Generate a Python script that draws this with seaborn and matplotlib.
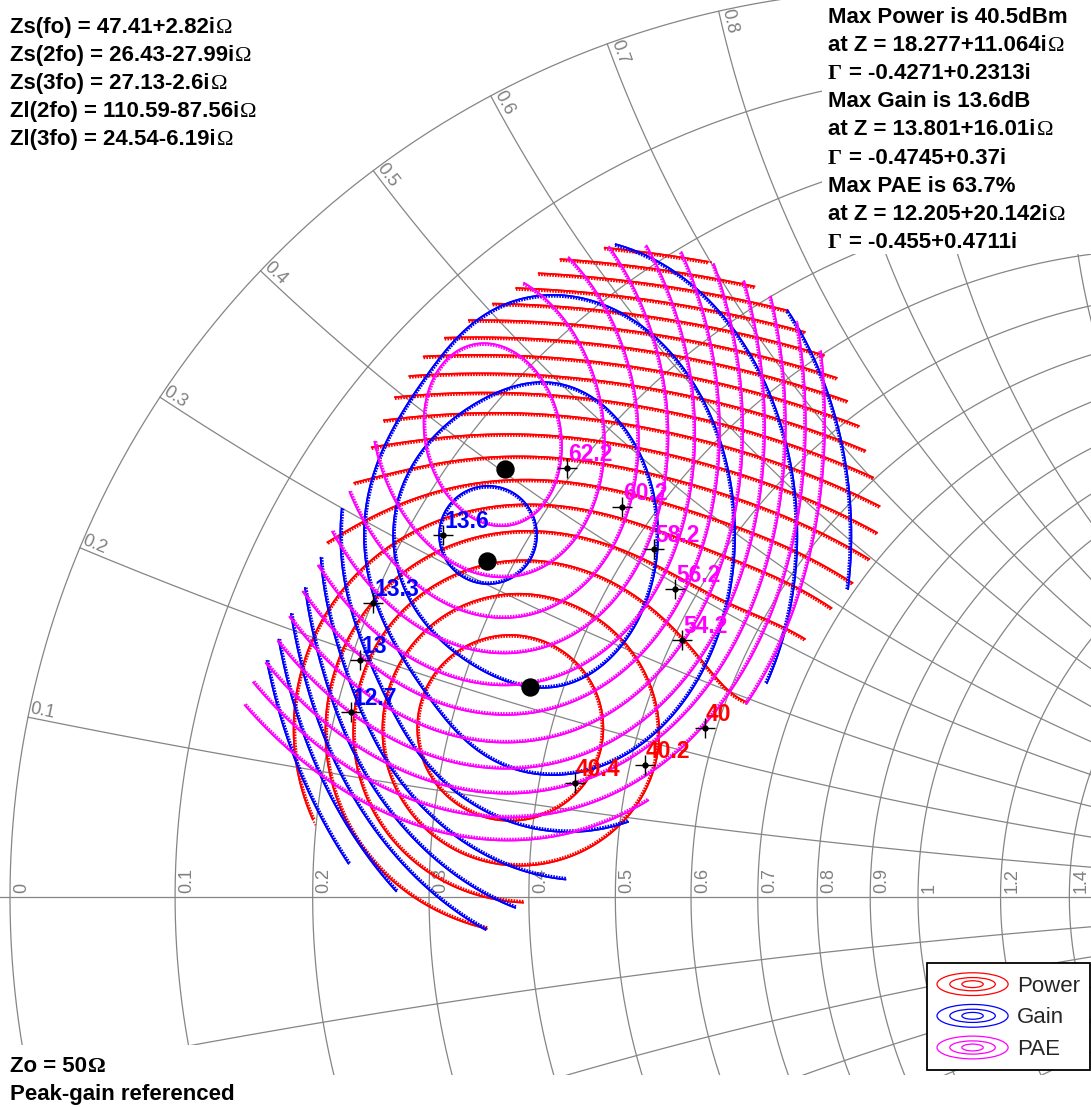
import numpy as np
import matplotlib
matplotlib.use("Agg")
import matplotlib.pyplot as plt
import seaborn as sns
from matplotlib.path import Path
from matplotlib import patheffects as pe
from matplotlib.patches import Ellipse, Rectangle
from matplotlib.legend_handler import HandlerBase
from matplotlib.lines import Line2D

sns.set_theme(style="white")
plt.rcParams["font.family"] = ["Liberation Sans", "DejaVu Sans"]

# ---------------- data (reflection-coefficient plane) ----------------
max_re = [-0.4271, -0.4745, -0.455]          # Power, Gain, PAE maxima
max_im = [0.2313, 0.37, 0.4711]

power_levels = [40.4, 40.2, 40.0, 39.8, 39.6, 39.4, 39.2, 39.0, 38.8, 38.6, 38.4,
                38.2, 38.0, 37.8, 37.6, 37.4, 37.2, 37.0, 36.8, 36.6]
gain_levels = [13.6, 13.3, 13.0, 12.7, 12.4, 12.1, 11.8, 11.5, 11.2]
pae_levels = [62.2, 60.2, 58.2, 56.2, 54.2, 52.2, 50.2, 48.2, 46.2, 44.2, 42.2]

power_lab_val = [40.4, 40.2, 40.0]
power_lab_re = [-0.3778, -0.3007, -0.2346]
power_lab_im = [0.1256, 0.1454, 0.1861]
gain_lab_val = [13.6, 13.3, 13.0, 12.7]
gain_lab_re = [-0.5231, -0.6002, -0.6145, -0.6244]
gain_lab_im = [0.3987, 0.3238, 0.2610, 0.2037]
pae_lab_val = [62.2, 60.2, 58.2, 56.2, 54.2]
pae_lab_re = [-0.3866, -0.3260, -0.2907, -0.2676, -0.2599]
pae_lab_im = [0.4725, 0.4295, 0.3833, 0.3392, 0.2830]

# measured load-pull area (outline)
region_re = [-0.394, -0.328, -0.279, -0.218, -0.152, -0.097, -0.064, -0.040, -0.046,
             -0.066, -0.105, -0.155, -0.227, -0.284, -0.374, -0.438, -0.493, -0.570,
             -0.644, -0.681, -0.722, -0.747, -0.732, -0.714, -0.684, -0.662, -0.642,
             -0.620, -0.598, -0.576, -0.545, -0.515, -0.477, -0.438]
region_im = [0.704, 0.721, 0.718, 0.696, 0.657, 0.591, 0.520, 0.432, 0.382,
             0.351, 0.305, 0.247, 0.171, 0.118, 0.026, -0.009, -0.050, 0.002,
             0.046, 0.107, 0.156, 0.200, 0.239, 0.267, 0.327, 0.366, 0.415,
             0.461, 0.506, 0.555, 0.597, 0.622, 0.649, 0.675]

# surface descriptors: centre, centre drift, axis angle, inner/outer aspect,
# aspect growth radius and sharpness, peak, scale, exponent
power_surf = dict(c=(-0.4692, 0.1905), v=(0.2, 0.0), angle=-12.0, a0=1.0, a1=1.7,
                  L=0.31, q=6, peak=40.62, k=10.6, p=1.7)
gain_surf = dict(c=(-0.4978, 0.3987), v=(0.0, -0.45), angle=90.0, a0=1.0, a1=1.3,
                 L=0.2, q=4, peak=13.66, k=11.5, p=1.8)
pae_surf = dict(c=(-0.4604, 0.4900), v=(0.2, 0.05), angle=102.0, a0=1.36, a1=1.36,
                L=1.0, q=4, peak=63.72, k=96.2, p=1.6)

r_values = [0, 0.1, 0.2, 0.3, 0.4, 0.5, 0.6, 0.7, 0.8, 0.9, 1.0, 1.2, 1.4]
x_values = [0.1, 0.2, 0.3, 0.4, 0.5, 0.6, 0.7, 0.8, 0.9, 1.0, 1.2, 1.4]
x_labels = [0.1, 0.2, 0.3, 0.4, 0.5, 0.6, 0.7, 0.8]

# ---------------- figure ----------------
W, H = 1091, 1107
fig = plt.figure(figsize=(W / 100, H / 100), dpi=100)
ax = fig.add_axes([0, 32 / H, 1, 1075 / H])
px = 908.0
x0, y0 = 918.0, 897.0
ax.set_xlim((0 - x0) / px, (W - x0) / px)
ax.set_ylim((y0 - 1075) / px, y0 / px)
ax.set_axis_off()

grid_kw = dict(color="#858585", lw=0.9, zorder=1)
th = np.linspace(0, 2 * np.pi, 1500)
for r in r_values:
    c, rad = r / (1 + r), 1 / (1 + r)
    ax.plot(c + rad * np.cos(th), rad * np.sin(th), **grid_kw)
ax.plot([-1.2, 1.2], [0, 0], **grid_kw)
rr = np.concatenate([[0], np.logspace(-3, 3, 1500)])
for xv in x_values:
    for s in (1, -1):
        z = rr + 1j * s * xv
        g = (z - 1) / (z + 1)
        ax.plot(g.real, g.imag, **grid_kw)

lab_kw = dict(color="#808080", fontsize=13, rotation_mode="anchor", zorder=2)
for r in r_values:
    gr = (r - 1) / (r + 1)
    ax.text(gr + 3 / px, 4 / px, f"{r:g}", rotation=90, ha="left", va="top", **lab_kw)
for xv in x_labels:
    g = (1j * xv - 1) / (1j * xv + 1)
    ang = np.degrees(np.arctan2(-g.imag, -g.real))
    ax.text(g.real, g.imag, f"{xv:g}", rotation=ang, ha="left", va="bottom", **lab_kw)

# ---------------- contour surfaces ----------------
GX, GY = np.meshgrid(np.linspace(-0.80, 0.0, 560), np.linspace(-0.12, 0.76, 610))
region = Path(np.column_stack([region_re, region_im]))
inside = region.contains_points(np.column_stack([GX.ravel(), GY.ravel()])).reshape(GX.shape)


def surface(sp):
    dx, dy = GX - sp["c"][0], GY - sp["c"][1]
    rho = np.hypot(dx, dy)
    a = sp["a0"] + (sp["a1"] - sp["a0"]) * (1 - np.exp(-(rho / sp["L"]) ** sp["q"]))
    t = np.radians(sp["angle"])
    u = (dx * np.cos(t) + dy * np.sin(t)) / a
    w = -dx * np.sin(t) + dy * np.cos(t)
    vx, vy = sp["v"]
    b = u * vx + w * vy
    vv = vx * vx + vy * vy
    R = (-b + np.sqrt(b * b + (1 - vv) * (u * u + w * w))) / (1 - vv)
    F = sp["peak"] - sp["k"] * R ** sp["p"]
    return np.ma.masked_where(~inside, F)


tick = [pe.Stroke(), pe.withTickedStroke(angle=90, spacing=2.0, length=1.0)]
for sp, lv, col, z in [(power_surf, power_levels, "#ff0000", 3),
                       (gain_surf, gain_levels, "#0000ff", 4),
                       (pae_surf, pae_levels, "#ff00ff", 5)]:
    cs = ax.contour(GX, GY, surface(sp), levels=sorted(lv), colors=col,
                    linewidths=1.2, zorder=z)
    cs.set_path_effects(tick)

# labels on contours
for vals, res, ims, col in [(power_lab_val, power_lab_re, power_lab_im, "#ff0000"),
                            (gain_lab_val, gain_lab_re, gain_lab_im, "#0000ff"),
                            (pae_lab_val, pae_lab_re, pae_lab_im, "#ff00ff")]:
    ax.plot(res, ims, ls="none", marker="+", ms=14, mew=1.0, color="black", zorder=8)
    ax.plot(res, ims, ls="none", marker="o", ms=3.5, color="black", zorder=8)
    for v, a, b in zip(vals, res, ims):
        ax.text(a + 1 / px, b + 2 / px, f"{v:g}", color=col, fontsize=16.5,
                fontweight="bold", ha="left", va="bottom", zorder=9)

sns.scatterplot(x=max_re, y=max_im, ax=ax, color="black", s=150, edgecolor="black",
                zorder=10, legend=False)
ax.set_xlabel("")
ax.set_ylabel("")
ax.set_axis_off()

# ---------------- text blocks ----------------
for rect in [(0, 1107 - 252, 262, 252), (822, 1107 - 254, 269, 254), (0, 0, 256, 62)]:
    fig.patches.append(Rectangle((rect[0] / W, rect[1] / H), rect[2] / W, rect[3] / H,
                                 transform=fig.transFigure, facecolor="white",
                                 edgecolor="none", zorder=20))

left_lines = ["Zs(fo) = 47.41+2.82i", "Zs(2fo) = 26.43-27.99i", "Zs(3fo) = 27.13-2.6i",
              "Zl(2fo) = 110.59-87.56i", "Zl(3fo) = 24.54-6.19i"]
right_lines = ["Max Power is 40.5dBm", "at Z = 18.277+11.064i", "\u0393= -0.4271+0.2313i",
               "Max Gain is 13.6dB", "at Z = 13.801+16.01i", "\u0393= -0.4745+0.37i",
               "Max PAE is 63.7%", "at Z = 12.205+20.142i", "\u0393= -0.455+0.4711i"]
tkw = dict(fontsize=16, fontweight="bold", color="black", va="baseline", ha="left", zorder=30)
sym_kw = dict(fontsize=16, color="black", va="baseline", ha="left", zorder=30,
              family=["Liberation Serif", "DejaVu Serif"])
renderer = fig.canvas.get_renderer()


def put_line(xp, yp, s):
    if s.startswith("\u0393"):
        fig.text(xp / W, 1 - yp / H, "\u0393", fontweight="bold", **sym_kw)
        fig.text((xp + 21) / W, 1 - yp / H, s[1:].lstrip(), **tkw)
        return
    t = fig.text(xp / W, 1 - yp / H, s, **tkw)
    if s.endswith("i") and ("Z" in s):
        bb = t.get_window_extent(renderer)
        fig.text((bb.x1 + 1) / W, 1 - yp / H, "\u03a9", **sym_kw)


for i, s in enumerate(left_lines):
    put_line(10, 33 + 28 * i, s)
for i, s in enumerate(right_lines):
    put_line(828, 23 + 28.1 * i, s)
t = fig.text(10 / W, 1 - 1072 / H, "Zo = 50", **tkw)
bb = t.get_window_extent(renderer)
fig.text((bb.x1 + 1) / W, 1 - 1072 / H, "\u03a9", fontweight="bold", **sym_kw)
fig.text(10 / W, 1 - 1100 / H, "Peak-gain referenced", **tkw)


# ---------------- legend ----------------
class NestedLoops(HandlerBase):
    def __init__(self, color):
        super().__init__()
        self.color = color

    def create_artists(self, legend, orig_handle, xdescent, ydescent, width, height,
                       fontsize, trans):
        cx, cy = -xdescent + width / 2, -ydescent + height / 2
        arts = []
        for fw, fh in [(1.0, 1.0), (0.64, 0.58), (0.3, 0.3)]:
            arts.append(Ellipse((cx, cy), width * fw, height * fh, fill=False,
                                edgecolor=self.color, lw=0.9, transform=trans))
        return arts


handles = [Line2D([], [], color=c) for c in ("#ff0000", "#0000ff", "#ff00ff")]
hmap = {h: NestedLoops(h.get_color()) for h in handles}
leg = fig.legend(handles=handles, labels=["Power", "Gain", "PAE"], handler_map=hmap,
                 loc="lower right", bbox_to_anchor=(1090 / W, 1 - 1070 / H),
                 bbox_transform=fig.transFigure, fontsize=16, frameon=True,
                 fancybox=False, edgecolor="black", framealpha=1, borderpad=0.45,
                 handlelength=3.2, handleheight=1.2, handletextpad=0.4,
                 labelspacing=0.35, borderaxespad=0)
leg.get_frame().set_linewidth(1.3)
leg.set_zorder(40)

fig.savefig("out.png", dpi=100)
